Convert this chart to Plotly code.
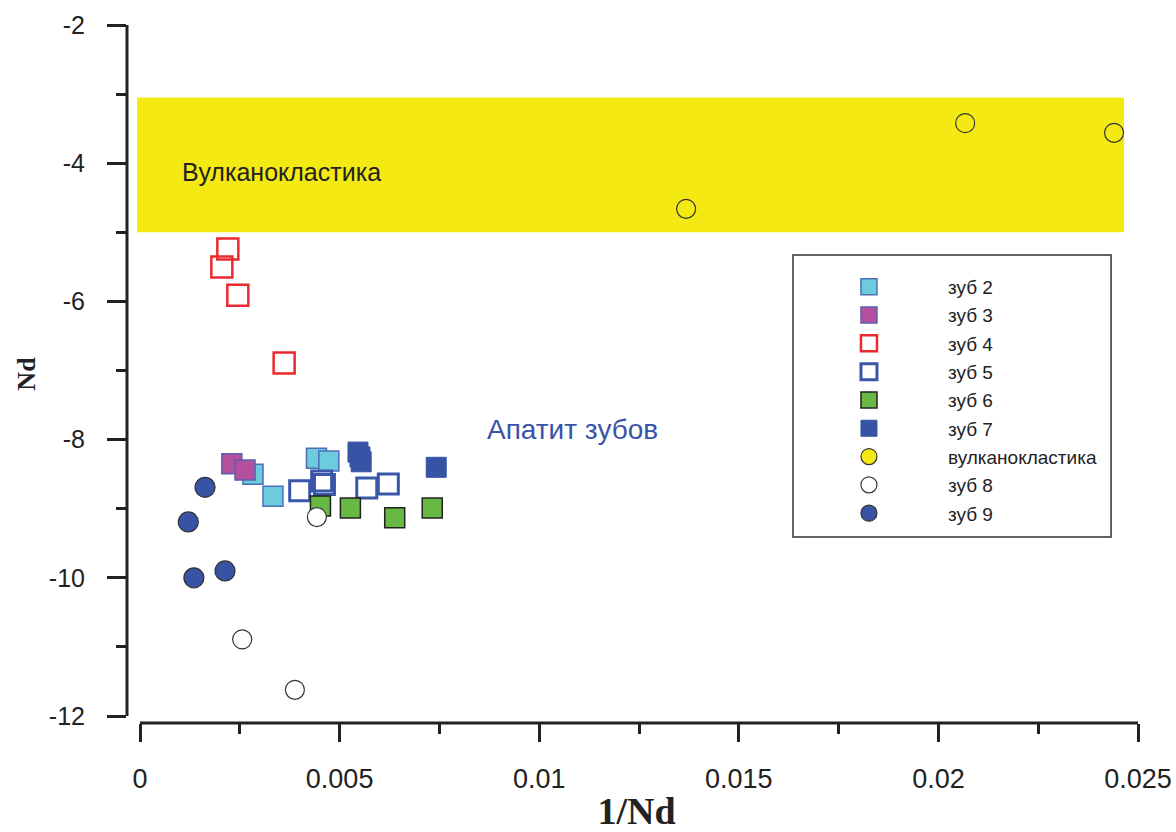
import plotly.graph_objects as go

# ---- data: 1/Nd (x) vs Nd (y) ----
tooth2_x = [0.00283, 0.00333, 0.00442, 0.00473]
tooth2_y = [-8.50, -8.82, -8.27, -8.31]

tooth3_x = [0.00230, 0.00263]
tooth3_y = [-8.35, -8.44]

tooth4_x = [0.00220, 0.00205, 0.00245, 0.00361]
tooth4_y = [-5.24, -5.50, -5.91, -6.89]

tooth5_x = [0.00400, 0.00455, 0.00462, 0.00568, 0.00622]
tooth5_y = [-8.74, -8.60, -8.65, -8.70, -8.64]

tooth6_x = [0.00452, 0.00527, 0.00638, 0.00732]
tooth6_y = [-8.96, -8.99, -9.13, -8.99]

tooth7_x = [0.00546, 0.00551, 0.00554, 0.00742]
tooth7_y = [-8.18, -8.25, -8.32, -8.40]

volc_x = [0.01368, 0.02067, 0.02440]
volc_y = [-4.66, -3.42, -3.56]

tooth8_x = [0.00443, 0.00256, 0.00388]
tooth8_y = [-9.12, -10.89, -11.62]

tooth9_x = [0.00163, 0.00121, 0.00135, 0.00213]
tooth9_y = [-8.69, -9.19, -10.00, -9.90]

# volcaniclastic field (Nd range) and axis ticks
band_x = [-0.000075, 0.02465]
band_y = [-5.0, -3.05]
x_ticks = [0, 0.005, 0.01, 0.015, 0.02, 0.025]
x_labels = ["0", "0.005", "0.01", "0.015", "0.02", "0.025"]
y_ticks = [-2, -4, -6, -8, -10, -12]
y_labels = ["-2", "-4", "-6", "-8", "-10", "-12"]

SANS = "Liberation Sans, Arial, sans-serif"
SERIF = "Liberation Serif, Times New Roman, serif"
INK = "#222222"
YELLOW = "#f5e914"

series = [
    ("зуб 2", tooth2_x, tooth2_y, dict(symbol="square", size=20, color="#6ccbdc",
                                      line=dict(color="#4a6fb8", width=1.5))),
    ("зуб 3", tooth3_x, tooth3_y, dict(symbol="square", size=20, color="#b44f9e",
                                      line=dict(color="#5a5fae", width=1.5))),
    ("зуб 4", tooth4_x, tooth4_y, dict(symbol="square-open", size=21, color="#ec2a2e",
                                      line=dict(color="#ec2a2e", width=2.5))),
    ("зуб 5", tooth5_x, tooth5_y, dict(symbol="square-open", size=20, color="#3a56a8",
                                      line=dict(color="#3a56a8", width=3))),
    ("зуб 6", tooth6_x, tooth6_y, dict(symbol="square", size=20, color="#67b943",
                                      line=dict(color="#222222", width=1.5))),
    ("зуб 7", tooth7_x, tooth7_y, dict(symbol="square", size=20, color="#3753a5",
                                      line=dict(color="#3753a5", width=1))),
    ("вулканокластика", volc_x, volc_y, dict(symbol="circle", size=19, color=YELLOW,
                                            line=dict(color="#333333", width=1.2))),
    ("зуб 8", tooth8_x, tooth8_y, dict(symbol="circle", size=19, color="white",
                                      line=dict(color="#333333", width=1.2))),
    ("зуб 9", tooth9_x, tooth9_y, dict(symbol="circle", size=20, color="#3953a4",
                                      line=dict(color="#333333", width=1.2))),
]

fig = go.Figure()
for i, (name, xs, ys, mk) in enumerate(series):
    fig.add_trace(go.Scatter(x=xs, y=ys, mode="markers", name=name, marker=mk,
                             legendgroup=f"g{i}"))

# yellow field behind the points
fig.add_shape(type="rect", xref="x", yref="y", x0=band_x[0], x1=band_x[1],
              y0=band_y[0], y1=band_y[1], fillcolor=YELLOW, line=dict(width=0),
              layer="below")

# axis lines (detached, as in the original layout)
fig.add_shape(type="line", xref="paper", yref="y", x0=0, x1=0, y0=-2, y1=-12,
              line=dict(color=INK, width=3))
fig.add_shape(type="line", xref="x", yref="paper", x0=0, x1=0.025, y0=0, y1=0,
              line=dict(color=INK, width=3))

# legend frame
fig.add_shape(type="rect", xref="paper", yref="paper", x0=0.6536, x1=0.9657,
              y0=0.2665, y1=0.6705, line=dict(color="#333333", width=1.5),
              fillcolor="rgba(0,0,0,0)")

fig.add_annotation(x=0.001, y=-4.13, xref="x", yref="y", text="Вулканокластика",
                   showarrow=False, xanchor="left", yanchor="middle",
                   font=dict(family=SANS, size=25, color=INK))
fig.add_annotation(x=0.00865, y=-7.86, xref="x", yref="y", text="Апатит зубов",
                   showarrow=False, xanchor="left", yanchor="middle",
                   font=dict(family=SANS, size=28, color="#3a52a8"))

fig.update_layout(
    width=1176, height=832,
    margin=dict(l=127, r=30, t=25, b=109),
    paper_bgcolor="white", plot_bgcolor="white",
    showlegend=True,
    legend=dict(x=0.6506, y=0.652, xanchor="left", yanchor="top",
                bgcolor="rgba(0,0,0,0)", borderwidth=0, itemwidth=148,
                tracegroupgap=0.6, traceorder="grouped",
                font=dict(family=SANS, size=19, color=INK)),
    xaxis=dict(range=[-0.000326, 0.0252], tickvals=x_ticks, ticktext=x_labels,
               automargin=False,
               ticks="outside", ticklen=18, tickwidth=3, tickcolor=INK,
               ticklabelstandoff=14,
               showline=False, showgrid=False, zeroline=False,
               tickfont=dict(family=SANS, size=27, color=INK),
               minor=dict(dtick=0.0025, tick0=0, ticks="outside", ticklen=10,
                          tickwidth=3, tickcolor=INK, showgrid=False),
               title=dict(text="<b>1/Nd</b>", standoff=13,
                          font=dict(family=SERIF, size=38, color=INK))),
    yaxis=dict(range=[-12.1, -2], tickvals=y_ticks, ticktext=y_labels,
               automargin=False,
               ticks="outside", ticklen=19, tickwidth=3, tickcolor=INK,
               ticklabelstandoff=17,
               showline=False, showgrid=False, zeroline=False,
               tickfont=dict(family=SANS, size=25, color=INK),
               minor=dict(dtick=1, tick0=0, ticks="outside", ticklen=10,
                          tickwidth=3, tickcolor=INK, showgrid=False),
               title=dict(text="<b>Nd</b>", standoff=5,
                          font=dict(family=SERIF, size=26, color=INK))),
)

fig.write_html("out.html")
